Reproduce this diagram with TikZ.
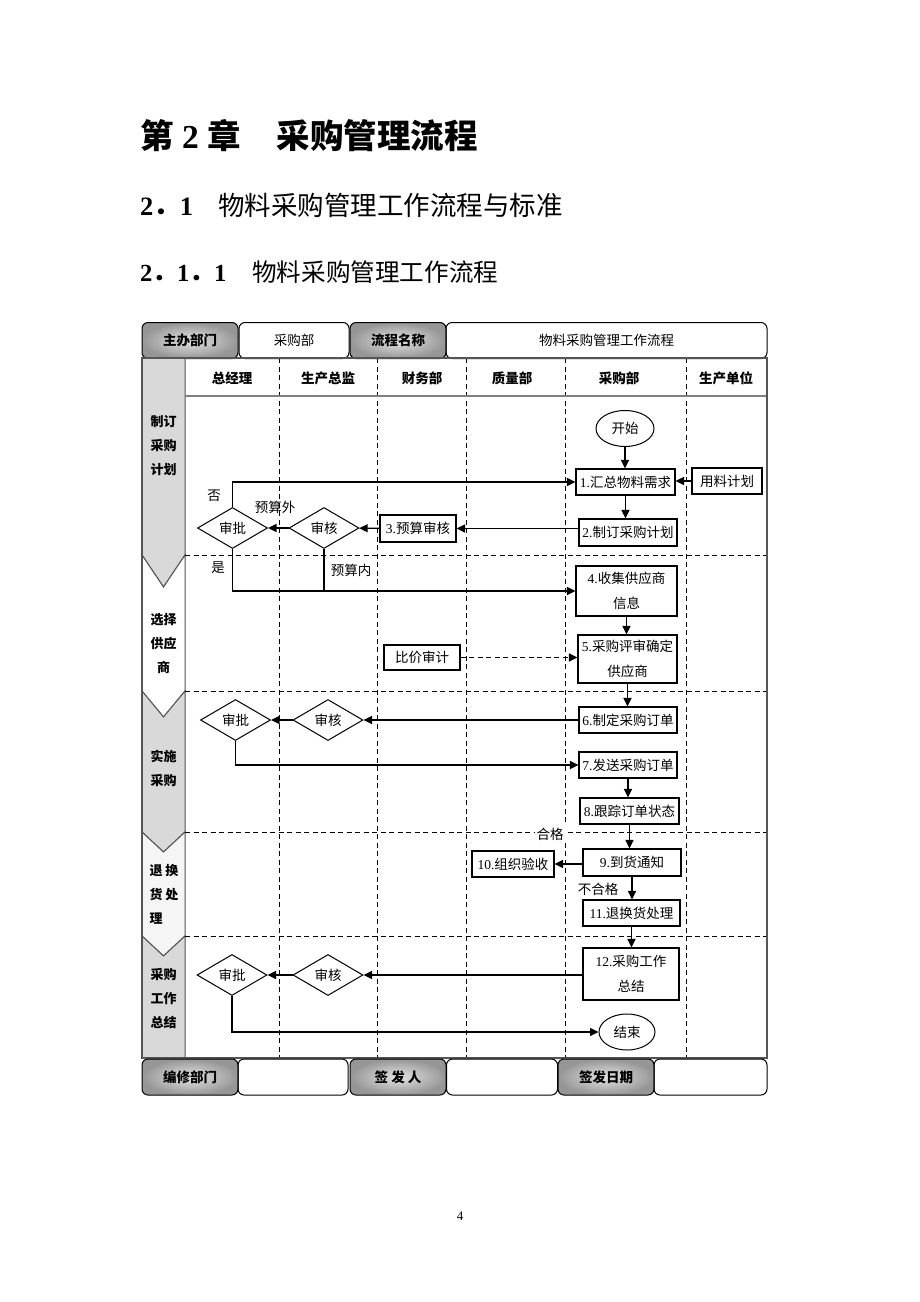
\documentclass[tikz,border=0pt]{standalone}
\usepackage{fontspec}
\setmainfont{Liberation Serif}
\newfontfamily\cjk{Noto Sans CJK SC}
\usetikzlibrary{arrows.meta,shapes.geometric}
\newcommand\zh[1]{{\cjk #1}}
\newcommand\fsbody{\fontsize{13.5}{25}\selectfont}
\newcommand\fshead{\fontsize{13.5}{16}\selectfont}
\newcommand\fsphase{\fontsize{13}{24}\selectfont}
\definecolor{phgray}{RGB}{217,217,217}
\definecolor{phlight}{RGB}{245,245,245}
\definecolor{framegray}{RGB}{85,85,85}
\definecolor{hin}{RGB}{228,228,228}
\definecolor{hout}{RGB}{150,150,150}
\begin{document}
\begin{tikzpicture}[x=1pt,y=-1pt,
  every node/.style={inner sep=1pt},
  box/.style={draw, line width=1.1pt, fill=white, rectangle, inner sep=2pt, align=center, font=\fsbody},
  dia/.style={draw, line width=1pt, fill=white, diamond, inner sep=0pt, minimum width=70pt, minimum height=41pt, font=\fsbody\cjk},
  ell/.style={draw, line width=1pt, fill=white, ellipse, inner sep=0pt, minimum width=58pt, minimum height=36pt, font=\fsbody\cjk},
  arr/.style={line width=1.2pt, -{Triangle[length=8.5pt,width=8pt]}},
  ln/.style={line width=1.2pt},
  lanesep/.style={line width=0.9pt, dash pattern=on 5pt off 3.5pt},
  lbl/.style={font=\fsbody\cjk, inner sep=1pt},
  hcell/.style={draw, line width=1pt, rounded corners=6pt, minimum height=36pt, inner sep=0pt, font=\fshead\cjk\bfseries},
  graycell/.style={hcell, inner color=hin, outer color=hout},
  phtext/.style={font=\fsphase\cjk\bfseries, inner sep=0pt},
  colhead/.style={font=\fshead\cjk\bfseries, inner sep=0pt}
]
\useasboundingbox (0,0) rectangle (920,1302);
\fill[white] (0,0) rectangle (920,1302);

% titles
\node[anchor=west, inner sep=0pt, font=\fontsize{33.5}{40}\selectfont\bfseries] (t1) at (140,136)
  {\zh{第} 2 \zh{章}\hspace{36pt}\zh{采购管理流程}};
\node[anchor=west, inner sep=0pt, font=\fontsize{26.5}{32}\selectfont] (t2) at (140,205)
  {\textbf{2}\zh{\bfseries ．}\textbf{1}\hspace{25pt}\zh{物料采购管理工作流程与标准}};
\node[anchor=west, inner sep=0pt, font=\fontsize{24.6}{30}\selectfont] (t3) at (140,272)
  {\textbf{2}\zh{\bfseries ．}\textbf{1}\zh{\bfseries ．}\textbf{1}\hspace{26pt}\zh{物料采购管理工作流程}};

% header row
\node[graycell, minimum width=96pt] (h1) at (190,340.5) {主办部门};
\node[hcell, minimum width=110pt] (h2) at (294,340.5) {\mdseries 采购部};
\node[graycell, minimum width=96pt] (h3) at (398,340.5) {流程名称};
\node[hcell, minimum width=321pt] (h4) at (606.5,340.5) {\mdseries 物料采购管理工作流程};

% phase column shapes
\draw[framegray, line width=1pt, fill=phgray] (142,358) -- (185,358) -- (185,555) -- (163.5,587) -- (142,555) -- cycle;
\draw[framegray, line width=1pt, fill=white] (142,555) -- (163.5,587) -- (185,555) -- (185,691) -- (163.5,717) -- (142,691) -- cycle;
\draw[framegray, line width=1pt, fill=phgray] (142,691) -- (163.5,717) -- (185,691) -- (185,832) -- (163.5,852) -- (142,832) -- cycle;
\draw[framegray, line width=1pt, fill=phlight] (142,832) -- (163.5,852) -- (185,832) -- (185,936) -- (163.5,956) -- (142,936) -- cycle;
\draw[framegray, line width=1pt, fill=phgray] (142,936) -- (163.5,956) -- (185,936) -- (185,1058) -- (142,1058) -- cycle;

% lane dividers
\foreach \yy in {555,691,832,936} \draw[lanesep] (185,\yy) -- (767,\yy);
\foreach \xx in {279,377,466,565,686} \draw[lanesep] (\xx,358) -- (\xx,1058);
\draw[gray, line width=1.6pt] (185,396) -- (767,396);
\draw[framegray, line width=1.3pt] (142,358) rectangle (767,1058);

% column headers
\node[colhead] (c1) at (232,378) {总经理};
\node[colhead] (c2) at (328,378) {生产总监};
\node[colhead] (c3) at (422,378) {财务部};
\node[colhead] (c4) at (512,378) {质量部};
\node[colhead] (c5) at (619,378) {采购部};
\node[colhead] (c6) at (726,378) {生产单位};

% phase labels
\node[phtext, align=center] (p1) at (163.5,446) {制订\\采购\\计划};
\node[phtext, align=center] (p2) at (163.5,644) {选择\\供应\\商};
\node[phtext, align=center] (p3) at (163.5,768) {实施\\采购};
\node[phtext, align=left] (p4) at (164,894) {退 换\\货 处\\理};
\node[phtext, align=center] (p5) at (163.5,999) {采购\\工作\\总结};

% phase 1
\node[ell] (start) at (625,428.5) {开始};
\node[box, minimum width=99pt, minimum height=26pt] (n1) at (625.5,482) {1.\zh{汇总物料需求}};
\node[box, minimum width=70pt, minimum height=26pt] (plan) at (727,481) {\zh{用料计划}};
\node[box, minimum width=98pt, minimum height=27pt] (n2) at (628,532.5) {2.\zh{制订采购计划}};
\node[box, minimum width=76pt, minimum height=27pt] (n3) at (418,528.5) {3.\zh{预算审核}};
\node[dia] (rv1) at (324,528) {审核};
\node[dia] (ap1) at (232.5,528) {审批};
\node[lbl] (lno) at (214,496) {否};
\node[lbl] (lout) at (275,507) {预算外};
\node[lbl] (lyes) at (218,568) {是};
\node[lbl] (lin) at (351,570) {预算内};

% phase 2
\node[box, minimum width=101pt, minimum height=50pt] (n4) at (626.5,591) {4.\zh{收集供应商}\\\zh{信息}};
\node[box, minimum width=99pt, minimum height=48pt] (n5) at (627.5,659) {5.\zh{采购评审确定}\\\zh{供应商}};
\node[box, minimum width=76pt, minimum height=25pt] (audit) at (422,657.5) {\zh{比价审计}};

% phase 3
\node[box, minimum width=98pt, minimum height=26pt] (n6) at (628,720) {6.\zh{制定采购订单}};
\node[dia] (rv2) at (328,720) {审核};
\node[dia] (ap2) at (235.5,720) {审批};
\node[box, minimum width=98pt, minimum height=26pt] (n7) at (628,765) {7.\zh{发送采购订单}};
\node[box, minimum width=99pt, minimum height=26pt] (n8) at (629.5,811) {8.\zh{跟踪订单状态}};

% phase 4
\node[lbl, fill=white, inner sep=2pt] (lok) at (550,834) {合格};
\node[box, minimum width=98pt, minimum height=27pt] (n9) at (632,862.5) {9.\zh{到货通知}};
\node[box, minimum width=82pt, minimum height=26pt] (n10) at (513,864) {10.\zh{组织验收}};
\node[lbl] (lnok) at (598,889) {不合格};
\node[box, minimum width=97pt, minimum height=26pt] (n11) at (631.5,913) {11.\zh{退换货处理}};

% phase 5
\node[box, minimum width=96pt, minimum height=52pt] (n12) at (631,974) {12.\zh{采购工作}\\\zh{总结}};
\node[dia] (rv3) at (328,975) {审核};
\node[dia] (ap3) at (232,975) {审批};
\node[ell, minimum width=56pt] (end) at (627,1032) {结束};

% footer row
\node[graycell, minimum width=96pt] (f1) at (190,1077) {编修部门};
\node[hcell, minimum width=110pt] (f2) at (293,1077) {};
\node[graycell, minimum width=96pt] (f3) at (398,1077) {签 发 人};
\node[hcell, minimum width=111pt] (f4) at (502,1077) {};
\node[graycell, minimum width=96pt] (f5) at (606,1077) {签发日期};
\node[hcell, minimum width=113pt] (f6) at (710.5,1077) {};

% page number
\node[font=\fontsize{13}{15}\selectfont] (pg) at (460,1216) {4};

% connectors phase 1
\draw[arr] (start) -- (start |- n1.north);
\draw[arr] (plan) -- (plan -| n1.east);
\draw[arr] (n1) -- (n1 |- n2.north);
\draw[arr] (n2.west |- n3) -- (n3);
\draw[arr] (n3) -- (rv1);
\draw[arr] (rv1) -- (ap1);
\draw[arr] (ap1.north) |- (n1.west);
\draw[arr] (ap1.south) |- (n4.west);
\draw[ln] (rv1.south) -- (rv1.south |- n4.west);

% phase 2
\draw[arr] (n4) -- (n4 |- n5.north);
\draw[arr, dash pattern=on 5pt off 3.5pt] (audit) -- (audit -| n5.west);
\draw[arr] (n5) -- (n5 |- n6.north);

% phase 3
\draw[arr] (n6) -- (rv2);
\draw[arr] (rv2) -- (ap2);
\draw[arr] (ap2.south) |- (n7.west);
\draw[arr] (n7) -- (n7 |- n8.north);

% phase 4
\draw[arr] (n8) -- (n8 |- n9.north);
\draw[arr] (n9.west |- n10) -- (n10);
\draw[arr] (n9) -- (n9 |- n11.north);
\draw[arr] (n11) -- (n11 |- n12.north);

% phase 5
\draw[arr] (n12.west |- rv3) -- (rv3);
\draw[arr] (rv3) -- (ap3);
\draw[arr] (ap3.south) |- (end.west);
\end{tikzpicture}
\end{document}
